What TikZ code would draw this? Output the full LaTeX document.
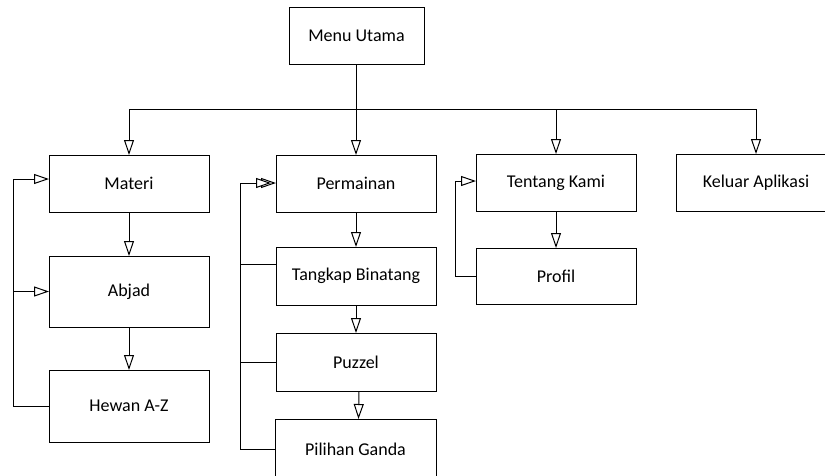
\documentclass[tikz,border=0pt]{standalone}
\usepackage{fontspec}
\setmainfont{Carlito}
\usetikzlibrary{arrows.meta}
\begin{document}
\begin{tikzpicture}[x=1pt,y=-1pt,
  box/.style={draw, line width=1pt, minimum width=160pt, inner sep=0pt, outer sep=0pt, font=\fontsize{18}{21}\selectfont},
  conn/.style={draw, line width=1pt},
  tip/.style={-{Triangle[length=15pt,width=10pt,fill=white,line width=1pt]}}]
\clip (0,0) rectangle (825,475);
% nodes
\node[box, minimum width=135pt, minimum height=57pt] (menu) at (356.5,35.5) {Menu Utama};
\node[box, minimum height=57pt] (materi) at (129,183.5) {Materi};
\node[box, minimum height=71pt] (abjad) at (129,291.5) {Abjad};
\node[box, minimum height=72pt] (hewan) at (129,406) {Hewan A-Z};
\node[box, minimum height=57pt] (perm) at (356,183.5) {Permainan};
\node[box, minimum height=58pt] (tangkap) at (356,276) {Tangkap Binatang};
\node[box, minimum height=58pt] (puzzel) at (356,362) {Puzzel};
\node[box, minimum width=161pt, minimum height=60pt] (pilihan) at (355.5,449) {Pilihan Ganda};
\node[box, minimum height=57pt] (tentang) at (556,182.5) {Tentang Kami};
\node[box, minimum height=56pt] (profil) at (556,276) {Profil};
\node[box, minimum height=57pt] (keluar) at (756,182.5) {Keluar Aplikasi};
% helper coordinates
\coordinate (bus) at (356,109);
\coordinate (fbA) at (13,0);
\coordinate (fbB) at (240,0);
\coordinate (fbC) at (455,0);
\coordinate (materiIn) at (49,179);
\coordinate (permIn) at (276,183);
\coordinate (tentIn) at (476,181);
\coordinate (tkOut) at (276,264);
% bus from main menu
\draw[line width=1.6pt] (menu.south) -- (menu.south |- bus);
\draw[conn] (materi.north |- bus) -- (keluar.north |- bus);
\draw[conn,tip] (materi.north |- bus) -- (materi.north);
\draw[conn,tip] (perm.north |- bus) -- (perm.north);
\draw[conn,tip] (tentang.north |- bus) -- (tentang.north);
\draw[conn,tip] (keluar.north |- bus) -- (keluar.north);
% vertical chains
\draw[conn,tip] (materi.south) -- (abjad.north);
\draw[conn,tip] (abjad.south) -- (hewan.north);
\draw[conn,tip] (perm.south) -- (tangkap.north);
\draw[conn,tip] (tangkap.south) -- (puzzel.north);
\draw[conn,tip] ([xshift=3pt]puzzel.south) -- ([xshift=3pt]pilihan.north);
\draw[conn,tip] (tentang.south) -- (profil.north);
% feedback: Materi group
\draw[conn,tip] (hewan.west) -- (hewan.west -| fbA) -- (fbA |- materiIn) -- (materiIn);
\draw[conn,tip,line width=1.6pt] (fbA |- abjad.west) -- (abjad.west);
% feedback: Permainan group
\draw[conn] (tkOut) -- (tkOut -| fbB);
\draw[conn] (puzzel.west) -- (puzzel.west -| fbB);
\draw[conn,tip] (pilihan.west) -- (pilihan.west -| fbB) -- (fbB |- permIn) -- (permIn);
\draw[conn,tip] (fbB |- permIn) -- ([xshift=-5pt]permIn);
% feedback: Tentang group
\draw[conn,tip] (profil.west) -- (profil.west -| fbC) -- (fbC |- tentIn) -- (tentIn);
\end{tikzpicture}
\end{document}
